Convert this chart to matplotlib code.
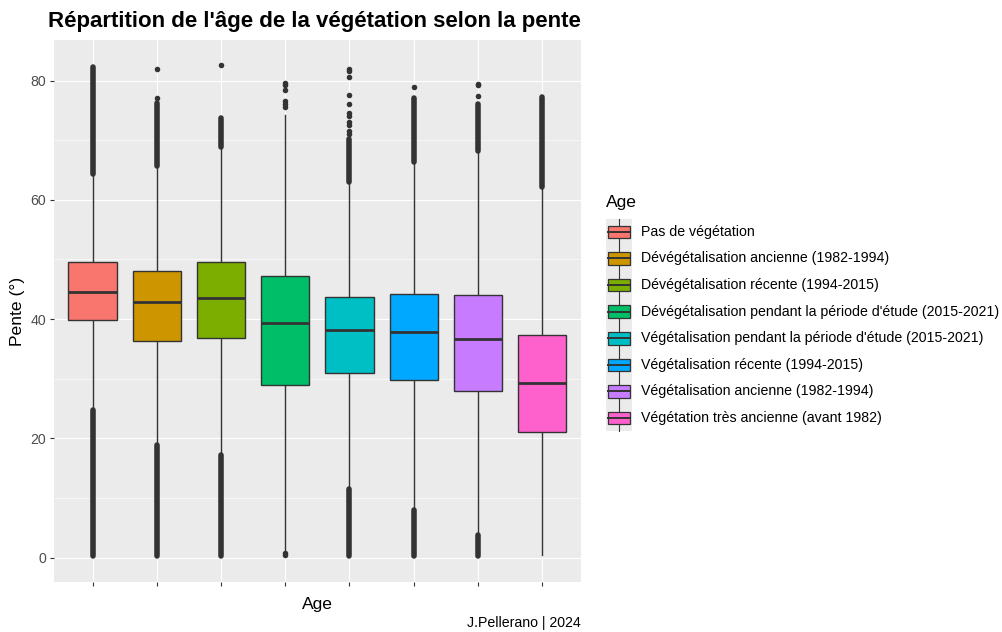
import matplotlib
matplotlib.use("Agg")
import matplotlib.pyplot as plt
from matplotlib.patches import Rectangle
import numpy as np

plt.rcParams['font.family'] = ['Liberation Sans', 'DejaVu Sans']

# ---------------- data ----------------
categories = [
    "Pas de végétation",
    "Dévégétalisation ancienne (1982-1994)",
    "Dévégétalisation récente (1994-2015)",
    "Dévégétalisation pendant la période d'étude (2015-2021)",
    "Végétalisation pendant la période d'étude (2015-2021)",
    "Végétalisation récente (1994-2015)",
    "Végétalisation ancienne (1982-1994)",
    "Végétation très ancienne (avant 1982)",
]
colors = ["#F8766D", "#CD9600", "#7CAE00", "#00BE67",
          "#00BFC4", "#00A9FF", "#C77CFF", "#FF61CC"]

q1 = [39.8, 36.4, 36.8, 28.9, 30.9, 29.7, 28.0, 21.0]
med = [44.6, 42.8, 43.6, 39.4, 38.2, 37.8, 36.6, 29.2]
q3 = [49.5, 48.0, 49.5, 47.3, 43.7, 44.2, 44.0, 37.4]
whislo = [24.9, 19.0, 17.3, 1.3, 11.6, 8.0, 3.9, 0.4]
whishi = [64.2, 65.4, 68.6, 74.2, 62.8, 66.1, 68.0, 62.0]

# dense runs of outliers (lo, hi) per category
upper_run_lo = [64.3, 65.6, 68.8, None, 63.0, 66.3, 68.2, 62.2]
upper_run_hi = [82.3, 76.3, 73.7, None, 70.2, 77.0, 76.0, 77.3]
lower_run_lo = [0.3, 0.3, 0.3, None, 0.3, 0.3, 0.3, None]
lower_run_hi = [24.8, 18.9, 17.2, None, 11.5, 7.9, 3.8, None]

# isolated outliers per category
single_fliers = [
    [],
    [82.0, 77.0],
    [82.6],
    [79.6, 79.2, 78.4, 76.6, 76.1, 75.6, 0.4, 0.8],
    [82.0, 81.6, 80.6, 77.6, 76.1, 74.6, 74.0, 73.1, 72.5, 71.5, 71.0],
    [79.0],
    [79.5, 79.2, 77.4],
    [],
]

y_ticks = [0, 20, 40, 60, 80]
y_minor = [10, 30, 50, 70]

title = "Répartition de l'âge de la végétation selon la pente"
x_label = "Age"
y_label = "Pente (°)"
legend_title = "Age"
caption = "J.Pellerano | 2024"

# ---------------- figure ----------------
W, H = 1003, 632
fig = plt.figure(figsize=(W / 100, H / 100), dpi=100)
px_l, px_r, px_t, px_b = 54, 580.7, 40, 582
ax = fig.add_axes([px_l / W, 1 - px_b / H, (px_r - px_l) / W, (px_b - px_t) / H])

ax.set_facecolor("#EBEBEB")
for s in ax.spines.values():
    s.set_visible(False)

positions = np.arange(1, len(categories) + 1)

edge = "#333333"
lw = 1.0
stats = []
for i in range(len(categories)):
    stats.append(dict(med=med[i], q1=q1[i], q3=q3[i],
                      whislo=whislo[i], whishi=whishi[i], fliers=[]))
bp = ax.bxp(stats, positions=positions, widths=0.75, patch_artist=True,
            showcaps=False, showfliers=False, manage_ticks=False,
            boxprops=dict(edgecolor=edge, linewidth=lw),
            whiskerprops=dict(color=edge, linewidth=lw),
            medianprops=dict(color=edge, linewidth=2.0, solid_capstyle="butt"))
for patch, c in zip(bp["boxes"], colors):
    patch.set_facecolor(c)
    patch.set_zorder(3)
for w in bp["whiskers"]:
    w.set_zorder(2)
for m in bp["medians"]:
    m.set_zorder(4)

# outliers
flier_lw = 4.0
for i, p in enumerate(positions):
    for lo, hi in ((upper_run_lo[i], upper_run_hi[i]), (lower_run_lo[i], lower_run_hi[i])):
        if lo is not None:
            ax.plot([p, p], [lo, hi], color=edge, linewidth=flier_lw,
                    solid_capstyle="round", zorder=5)
    if single_fliers[i]:
        ax.plot([p] * len(single_fliers[i]), single_fliers[i], "o", color=edge,
                markersize=4.0, markeredgewidth=0, zorder=5)

ax.set_xlim(0.4, len(categories) + 0.6)
ax.set_ylim(-4.1, 86.8)

# grid & ticks
ax.set_yticks(y_ticks)
ax.set_yticks(y_minor, minor=True)
ax.set_xticks(positions)
ax.set_xticklabels([""] * len(categories))
ax.grid(which="major", color="white", linewidth=0.85, zorder=0)
ax.grid(which="minor", axis="y", color="white", linewidth=0.45, zorder=0)
ax.set_axisbelow(True)
ax.tick_params(axis="both", which="major", length=2.7, width=0.8,
               color="#333333", labelsize=10.2, labelcolor="#4D4D4D", pad=3)
ax.tick_params(axis="y", which="minor", length=0)

ax.set_xlabel(x_label, fontsize=12.6, color="black", labelpad=5)
ax.set_ylabel(y_label, fontsize=12.6, color="black", labelpad=4)

# title & caption
fig.text(48 / W, 1 - 21 / H, title, fontsize=16, fontweight="bold",
         ha="left", va="center", color="black")
fig.text(px_r / W, 1 - 623 / H, caption, fontsize=10.2, ha="right",
         va="center", color="black")

# ---------------- legend (drawn in pixel space) ----------------
lax = fig.add_axes([0, 0, 1, 1])
lax.set_xlim(0, W)
lax.set_ylim(H, 0)
lax.axis("off")
lax.patch.set_alpha(0)

lax.text(606, 203, legend_title, fontsize=12.6, ha="left", va="center")
key_x0, key_x1 = 606, 632
key_top = 218.5
key_h = 26.6
lax.add_patch(Rectangle((key_x0, key_top), key_x1 - key_x0,
                        key_h * len(categories), facecolor="#EBEBEB",
                        edgecolor="none"))
for i, (lab, c) in enumerate(zip(categories, colors)):
    yc = key_top + key_h * (i + 0.5)
    xc = (key_x0 + key_x1) / 2
    bh = 12.6
    lax.plot([xc, xc], [yc - 7 - bh / 2 + 0.5, yc + 7 + bh / 2 - 0.5],
             color=edge, linewidth=0.8, zorder=1)
    lax.add_patch(Rectangle((608.5, yc - bh / 2), 21.5, bh, facecolor=c,
                            edgecolor=edge, linewidth=0.9, zorder=2))
    lax.plot([608.5, 630], [yc, yc], color=edge, linewidth=1.4, zorder=3)
    lax.text(641, yc, lab, fontsize=10.2, ha="left", va="center", color="black")

fig.savefig("out.png", dpi=100)
